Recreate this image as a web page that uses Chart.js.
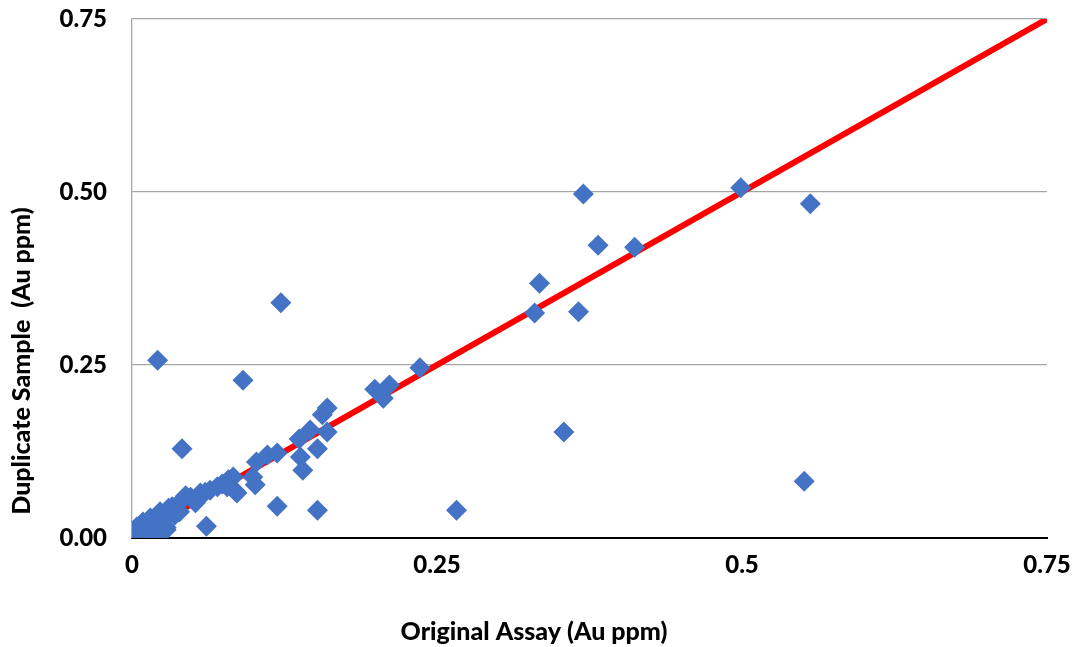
<!DOCTYPE html>
<html>
<head>
<meta charset="utf-8">
<script src="https://cdn.jsdelivr.net/npm/chart.js@4.4.1/dist/chart.umd.min.js"></script>
<style>
  html, body { margin: 0; padding: 0; background: #ffffff; }
  #wrap { width: 1073px; height: 647px; position: relative; }
</style>
</head>
<body>
<div id="wrap"><canvas id="c" width="1073" height="647"></canvas></div>
<script>
// ---- data ----
const originalAssay = [
  0.001, 0.002, 0.004, 0.003, 0.006, 0.007, 0.009, 0.010, 0.012, 0.013,
  0.015, 0.015, 0.017, 0.019, 0.020, 0.023, 0.024, 0.025, 0.028, 0.028,
  0.030, 0.033, 0.035, 0.039, 0.041, 0.044, 0.048, 0.052, 0.052, 0.056,
  0.060, 0.064, 0.070, 0.074, 0.079, 0.083, 0.084, 0.078, 0.086, 0.099,
  0.101, 0.102, 0.111, 0.119, 0.137, 0.138, 0.140, 0.146, 0.152, 0.156,
  0.160, 0.160, 0.199, 0.211, 0.206, 0.236,
  0.021, 0.122, 0.091, 0.041, 0.061, 0.119, 0.152, 0.266, 0.354, 0.551,
  0.370, 0.382, 0.334, 0.330, 0.366, 0.412, 0.499, 0.556
];
const duplicateSample = [
  0.004, 0.012, 0.016, 0.001, 0.005, 0.009, 0.023, 0.003, 0.016, 0.008,
  0.029, 0.004, 0.019, 0.010, 0.022, 0.038, 0.007, 0.026, 0.015, 0.012,
  0.043, 0.045, 0.033, 0.038, 0.055, 0.061, 0.059, 0.055, 0.051, 0.065,
  0.066, 0.069, 0.074, 0.078, 0.084, 0.088, 0.069, 0.074, 0.065, 0.088,
  0.077, 0.110, 0.120, 0.123, 0.143, 0.117, 0.098, 0.156, 0.129, 0.178,
  0.188, 0.153, 0.215, 0.221, 0.202, 0.246,
  0.257, 0.340, 0.228, 0.129, 0.017, 0.046, 0.040, 0.040, 0.153, 0.082,
  0.497, 0.423, 0.368, 0.325, 0.327, 0.420, 0.506, 0.483
];
const oneToOneX = [0, 0.75];
const oneToOneY = [0, 0.75];
const xTickLabels = ["0", "0.25", "0.5", "0.75"];
const yTickLabels = ["0.00", "0.25", "0.50", "0.75"];
const xTitle = "Original Assay (Au ppm)";
const yTitle = "Duplicate Sample  (Au ppm)";

const FONT = "Lato, 'Open Sans', sans-serif";

const scatterPts = originalAssay.map((x, i) => ({ x: x, y: duplicateSample[i] }));
const linePts = oneToOneX.map((x, i) => ({ x: x, y: oneToOneY[i] }));

function noPad(s) {
  s.paddingTop = 0; s.paddingBottom = 0; s.paddingLeft = 0; s.paddingRight = 0;
}

const titlesPlugin = {
  id: 'axisTitles',
  afterDraw(chart) {
    const ctx = chart.ctx;
    ctx.save();
    ctx.fillStyle = '#000000';
    ctx.font = "900 25px " + FONT;
    ctx.textAlign = 'center';
    ctx.textBaseline = 'middle';
    ctx.fillText(xTitle, 534, 632);
    ctx.translate(22, 361);
    ctx.rotate(-Math.PI / 2);
    ctx.fillText(yTitle, 0, 0);
    ctx.restore();
  }
};

new Chart(document.getElementById('c'), {
  type: 'scatter',
  data: {
    datasets: [
      {
        label: 'Duplicates',
        data: scatterPts,
        pointStyle: 'rectRot',
        pointRadius: 10.5,
        pointHoverRadius: 10.5,
        backgroundColor: '#4472C4',
        borderColor: '#4472C4',
        borderWidth: 0,
        order: 1
      },
      {
        label: '1:1',
        type: 'line',
        data: linePts,
        borderColor: '#FF0000',
        borderWidth: 6,
        pointRadius: 0,
        fill: false,
        order: 2
      }
    ]
  },
  options: {
    responsive: false,
    animation: false,
    events: [],
    layout: { padding: { top: 19, right: 26, bottom: 0, left: 0 } },
    plugins: { legend: { display: false }, tooltip: { enabled: false } },
    scales: {
      x: {
        type: 'linear',
        min: 0, max: 0.75,
        afterFit(s) { s.height = 109; noPad(s); },
        grid: { display: false, drawTicks: false },
        border: { display: true, color: '#000000', width: 2 },
        ticks: {
          stepSize: 0.25,
          padding: 13,
          color: '#000000',
          font: { family: FONT, size: 24, weight: '900' },
          callback: (v, i) => xTickLabels[i]
        }
      },
      y: {
        type: 'linear',
        min: 0, max: 0.75,
        afterFit(s) { s.width = 132; noPad(s); },
        grid: { display: true, color: '#A6A6A6', lineWidth: 1.3, drawTicks: false },
        border: { display: true, color: '#A6A6A6', width: 1.3 },
        ticks: {
          stepSize: 0.25,
          padding: 25,
          color: '#000000',
          font: { family: FONT, size: 24, weight: '900' },
          callback: (v, i) => yTickLabels[i]
        }
      }
    }
  },
  plugins: [titlesPlugin]
});
</script>
</body>
</html>
